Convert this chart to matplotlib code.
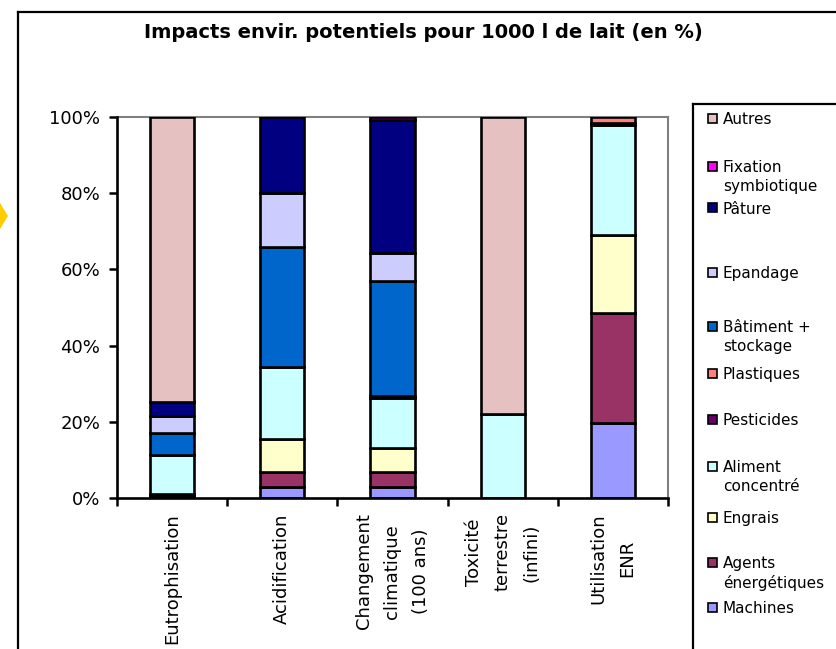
import matplotlib.pyplot as plt
import numpy as np
from matplotlib.patches import Rectangle, Polygon
from matplotlib.lines import Line2D

W, H = 836, 649

title = "Impacts envir. potentiels pour 1000 l de lait (en %)"
categories = ["Eutrophisation", "Acidification", "Changement\nclimatique\n(100 ans)",
              "Toxicité\nterrestre\n(infini)", "Utilisation\nENR"]

# parts in %, stacked from the bottom up
machines = [0.3, 2.9, 2.9, 0.0, 19.8]
agents = [0.4, 3.8, 3.8, 0.0, 28.8]
engrais = [0.3, 8.8, 6.4, 0.0, 20.4]
aliment = [10.4, 19.0, 13.1, 22.0, 29.0]
pesticides = [0.0, 0.0, 0.5, 0.0, 0.3]
plastiques = [0.0, 0.0, 0.0, 0.0, 1.7]
batiment = [5.6, 31.4, 30.2, 0.0, 0.0]
epandage = [4.4, 14.2, 7.3, 0.0, 0.0]
pature = [3.7, 19.9, 34.9, 0.0, 0.0]
fixation = [0.0, 0.0, 0.9, 0.0, 0.0]
autres = [74.9, 0.0, 0.0, 78.0, 0.0]

series = [machines, agents, engrais, aliment, pesticides, plastiques,
          batiment, epandage, pature, fixation, autres]
names = ["Machines", "Agents\nénergétiques", "Engrais", "Aliment\nconcentré",
         "Pesticides", "Plastiques", "Bâtiment +\nstockage", "Epandage",
         "Pâture", "Fixation\nsymbiotique", "Autres"]
colors = ["#9999FF", "#993366", "#FFFFCC", "#CCFFFF", "#660066", "#FF8080",
          "#0066CC", "#CCCCFF", "#000080", "#FF00FF", "#E6C1C1"]

plt.rcParams['font.family'] = 'DejaVu Sans'


def fx(px):
    return px / W


def fy(py):
    return 1 - py / H


fig = plt.figure(figsize=(W / 100, H / 100), dpi=100)
fig.patch.set_facecolor('white')

ax = fig.add_axes([fx(117), fy(498), (668 - 117) / W, (498 - 117) / H])

x = np.arange(len(categories))
bottom = np.zeros(len(categories))
for vals, c in zip(series, colors):
    vals = np.array(vals)
    keep = vals > 0
    ax.bar(x[keep], vals[keep], 0.4, bottom=bottom[keep], color=c,
           edgecolor='black', linewidth=1.9, zorder=3)
    bottom += vals

ax.set_xlim(-0.5, 4.5)
ax.set_ylim(0, 100)
ax.set_yticks(range(0, 101, 20))
ax.set_yticklabels([f"{v}%" for v in range(0, 101, 20)])
ax.tick_params(axis='y', direction='out', length=6, width=1.8, pad=6,
               labelsize=13)

ax.set_xticks(x)
ax.set_xticklabels(categories, rotation=90, va='top', ha='center',
                   multialignment='center', linespacing=1.75)
ax.tick_params(axis='x', which='major', length=0, pad=11, labelsize=13)
ax.set_xticks(np.arange(-0.5, 5, 1), minor=True)
ax.tick_params(axis='x', which='minor', direction='out', length=6, width=1.8)

for s in ['left', 'bottom']:
    ax.spines[s].set_color('black')
    ax.spines[s].set_linewidth(1.9)
    ax.spines[s].set_zorder(4)
for s in ['top', 'right']:
    ax.spines[s].set_color('#808080')
    ax.spines[s].set_linewidth(1.5)

fig.text(fx(423), fy(32), title, ha='center', va='center',
         fontsize=14, fontweight='bold')

# chart frame, legend frame
lw = 1.6
fig.add_artist(Line2D([fx(18), fx(18)], [fy(12), fy(H + 5)], color='black', lw=lw))
fig.add_artist(Line2D([fx(18), fx(W + 5)], [fy(12), fy(12)], color='black', lw=lw))
fig.add_artist(Line2D([fx(693), fx(693)], [fy(104), fy(H + 5)], color='black', lw=lw))
fig.add_artist(Line2D([fx(693), fx(W + 5)], [fy(104), fy(104)], color='black', lw=lw))

fig.add_artist(Polygon([(fx(0), fy(203)), (fx(8), fy(216)), (fx(0), fy(229))],
                       closed=True, color='#FFCC00', lw=0))

# legend entries, top to bottom
entry_y = [118, 166, 208, 272, 326, 373, 419, 466, 517, 562, 607]
for yy, name, c in zip(entry_y, names[::-1], colors[::-1]):
    fig.add_artist(Rectangle((fx(708), fy(yy + 4.5)), 9 / W, 9 / H,
                             facecolor=c, edgecolor='black', lw=1.2))
    fig.text(fx(723), fy(yy - 6), name, ha='left', va='top',
             fontsize=11, linespacing=1.3)

fig.savefig('out.png', dpi=100)
